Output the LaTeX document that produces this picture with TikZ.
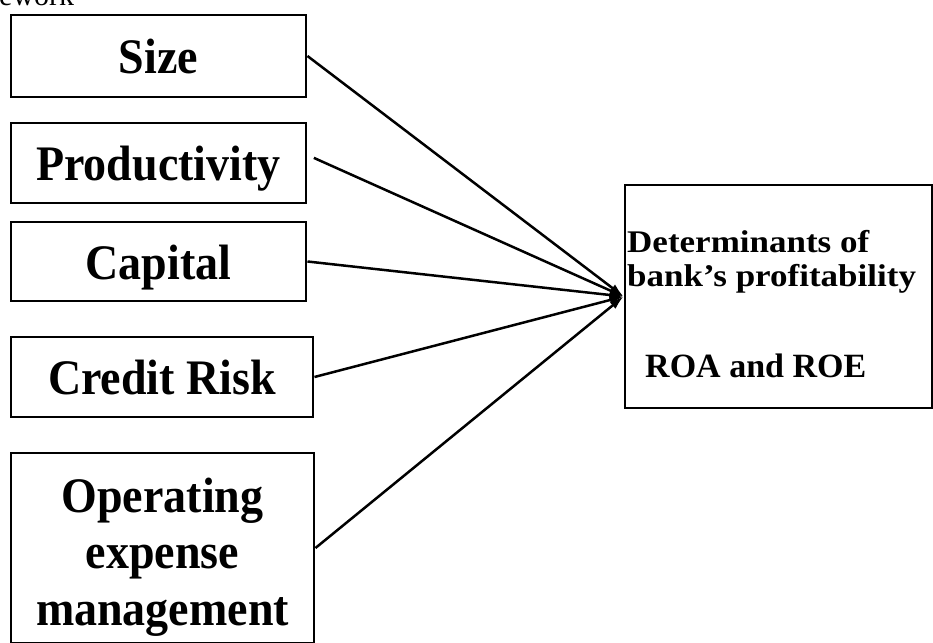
\documentclass[tikz,border=0pt]{standalone}
\usepackage{fontspec}
\setmainfont{Liberation Serif}
\usetikzlibrary{arrows.meta}
\newcommand{\tallbf}[1]{\scalebox{1}[1.08]{#1}}
\begin{document}
\begin{tikzpicture}[x=1pt,y=-1pt,
  box/.style={draw, line width=2.9pt, inner sep=0pt,
    font=\fontsize{46}{56}\selectfont\bfseries, text height=35pt, text depth=0pt},
  link/.style={line width=2.5pt, -{Latex[length=14pt,width=9pt]}},
  rtext/.style={anchor=base west, inner sep=0pt, font=\fontsize{35}{35}\selectfont\bfseries}]
\useasboundingbox (0,0) rectangle (933,642);
\node[anchor=base west, inner sep=0pt, font=\fontsize{30}{30}\selectfont] (title) at (-1,6) {ework};
\node[box, minimum width=295pt, minimum height=82pt] (S) at (158.5,56) {\tallbf{Size}};
\node[box, minimum width=295pt, minimum height=80pt] (P) at (158.5,163) {\tallbf{Productivity}};
\node[box, minimum width=295pt, minimum height=79pt] (C) at (158.5,261.5) {\tallbf{Capital}};
\node[box, minimum width=302pt, minimum height=80pt] (R) at (162,377) {\tallbf{Credit Risk}};
\node[box, minimum width=303pt, minimum height=190pt] (O) at (162.5,548) {};
\node[inner sep=0pt, align=center, font=\fontsize{46}{56.5}\selectfont\bfseries] (Ot) at (162.5,557) {\tallbf{Operating}\\\tallbf{expense}\\\tallbf{management}};
\node[draw, line width=2.9pt, inner sep=0pt, minimum width=307pt, minimum height=223pt] (T) at (778.5,296.5) {};
\node[rtext] (T1) at (627,252) {\scalebox{1}[0.9]{Determinants of}};
\node[rtext] (T2) at (627,286) {\scalebox{1}[0.9]{bank’s profitability}};
\node[rtext, font=\fontsize{34}{34}\selectfont\bfseries] (T3) at (645,377) {ROA and ROE};
\draw[link] (S.east) -- (T.west);
\draw[link, shorten <=7pt] ([yshift=8pt]P.east) -- (T.west);
\draw[link] (C.east) -- (T.west);
\draw[link] (R.east) -- (T.west);
\draw[link] (O.east) -- (T.west);
\end{tikzpicture}
\end{document}
